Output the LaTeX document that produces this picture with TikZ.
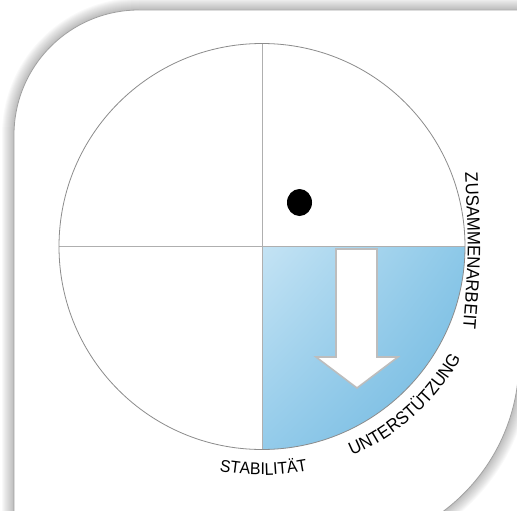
\documentclass[tikz,border=0pt]{standalone}
\usepackage{fontspec}
\setmainfont{Liberation Sans}
\newfontfamily\labelfont[FakeStretch=0.93]{Liberation Sans}
\usetikzlibrary{decorations.text,shadings}
\definecolor{pageline}{HTML}{A0A0A0}
\definecolor{circline}{HTML}{8C8C8C}
\definecolor{quadline}{HTML}{AFAFAF}
\definecolor{bluelight}{HTML}{C4E3F4}
\definecolor{bluemidA}{HTML}{8CC8E8}
\definecolor{bluemidB}{HTML}{93CBEA}
\definecolor{bluedark}{HTML}{6DB6DF}
\definecolor{arrowline}{HTML}{BDBDBD}
\tikzset{
  pageborder/.style={draw=pageline, line width=0.8pt, fill=white},
  circborder/.style={draw=circline, line width=0.8pt},
  quadrule/.style={draw=quadline, line width=1pt},
  arrowshape/.style={draw=arrowline, line width=1.6pt, fill=white, line join=miter},
  curvedlabel/.style={decorate, decoration={text along path, text align=center, text color=black, text={#1}}}
}
\def\pagepath{(14,549) -- (14,135) .. controls (14,65.96) and (69.96,10) .. (139,10) -- (519,10) -- (519,360) .. controls (519,464.4) and (434.4,549) .. (330,549) -- cycle}
\begin{document}
\begin{tikzpicture}[x=1pt,y=-1pt]
\useasboundingbox (0,0) rectangle (517,511);
\clip (0,0) rectangle (517,511);
% shadow of the page
\foreach \i in {1,...,12}{
  \draw[line width=2*\i pt, black, opacity=0.025] \pagepath;
}
\path[pageborder] \pagepath;
\coordinate (c) at (262,246.5);
% blue quadrant
\begin{scope}
  \clip (c) circle[radius=203];
  \shade[upper left=bluelight, upper right=bluemidA, lower left=bluemidB, lower right=bluedark] (262,246.5) rectangle (466,450);
\end{scope}
% quadrant lines
\draw[quadrule] (262,43.5) -- (262,449.5);
\draw[quadrule] (59,246.5) -- (465,246.5);
% circle
\draw[circborder] (c) circle[radius=203];
% arrow
\draw[arrowshape] (336,249) -- (377,249) -- (377,357) -- (398,357) -- (357,388) -- (316,357) -- (336,357) -- cycle;
% dot
\fill[black] (299.5,202.5) ellipse[x radius=12.5, y radius=13.5];
% labels along the rim
\path[curvedlabel={|\labelfont\fontsize{17}{20}\selectfont|STABILITÄT}]
  plot[domain=111.6:67.6, samples=45] ({262+228.5*cos(\x)}, {246.5+228.5*sin(\x)});
\path[curvedlabel={|\labelfont\fontsize{18}{21}\selectfont|UNTERSTÜTZUNG}]
  plot[domain=72:24, samples=49] ({262+228*cos(\x)}, {246.5+228*sin(\x)});
\path[curvedlabel={|\labelfont\fontsize{18}{21}\selectfont|ZUSAMMENARBEIT}]
  (464,152) -- (465,172) .. controls (469,251) .. (463,330) -- (461.5,350);
\end{tikzpicture}
\end{document}
